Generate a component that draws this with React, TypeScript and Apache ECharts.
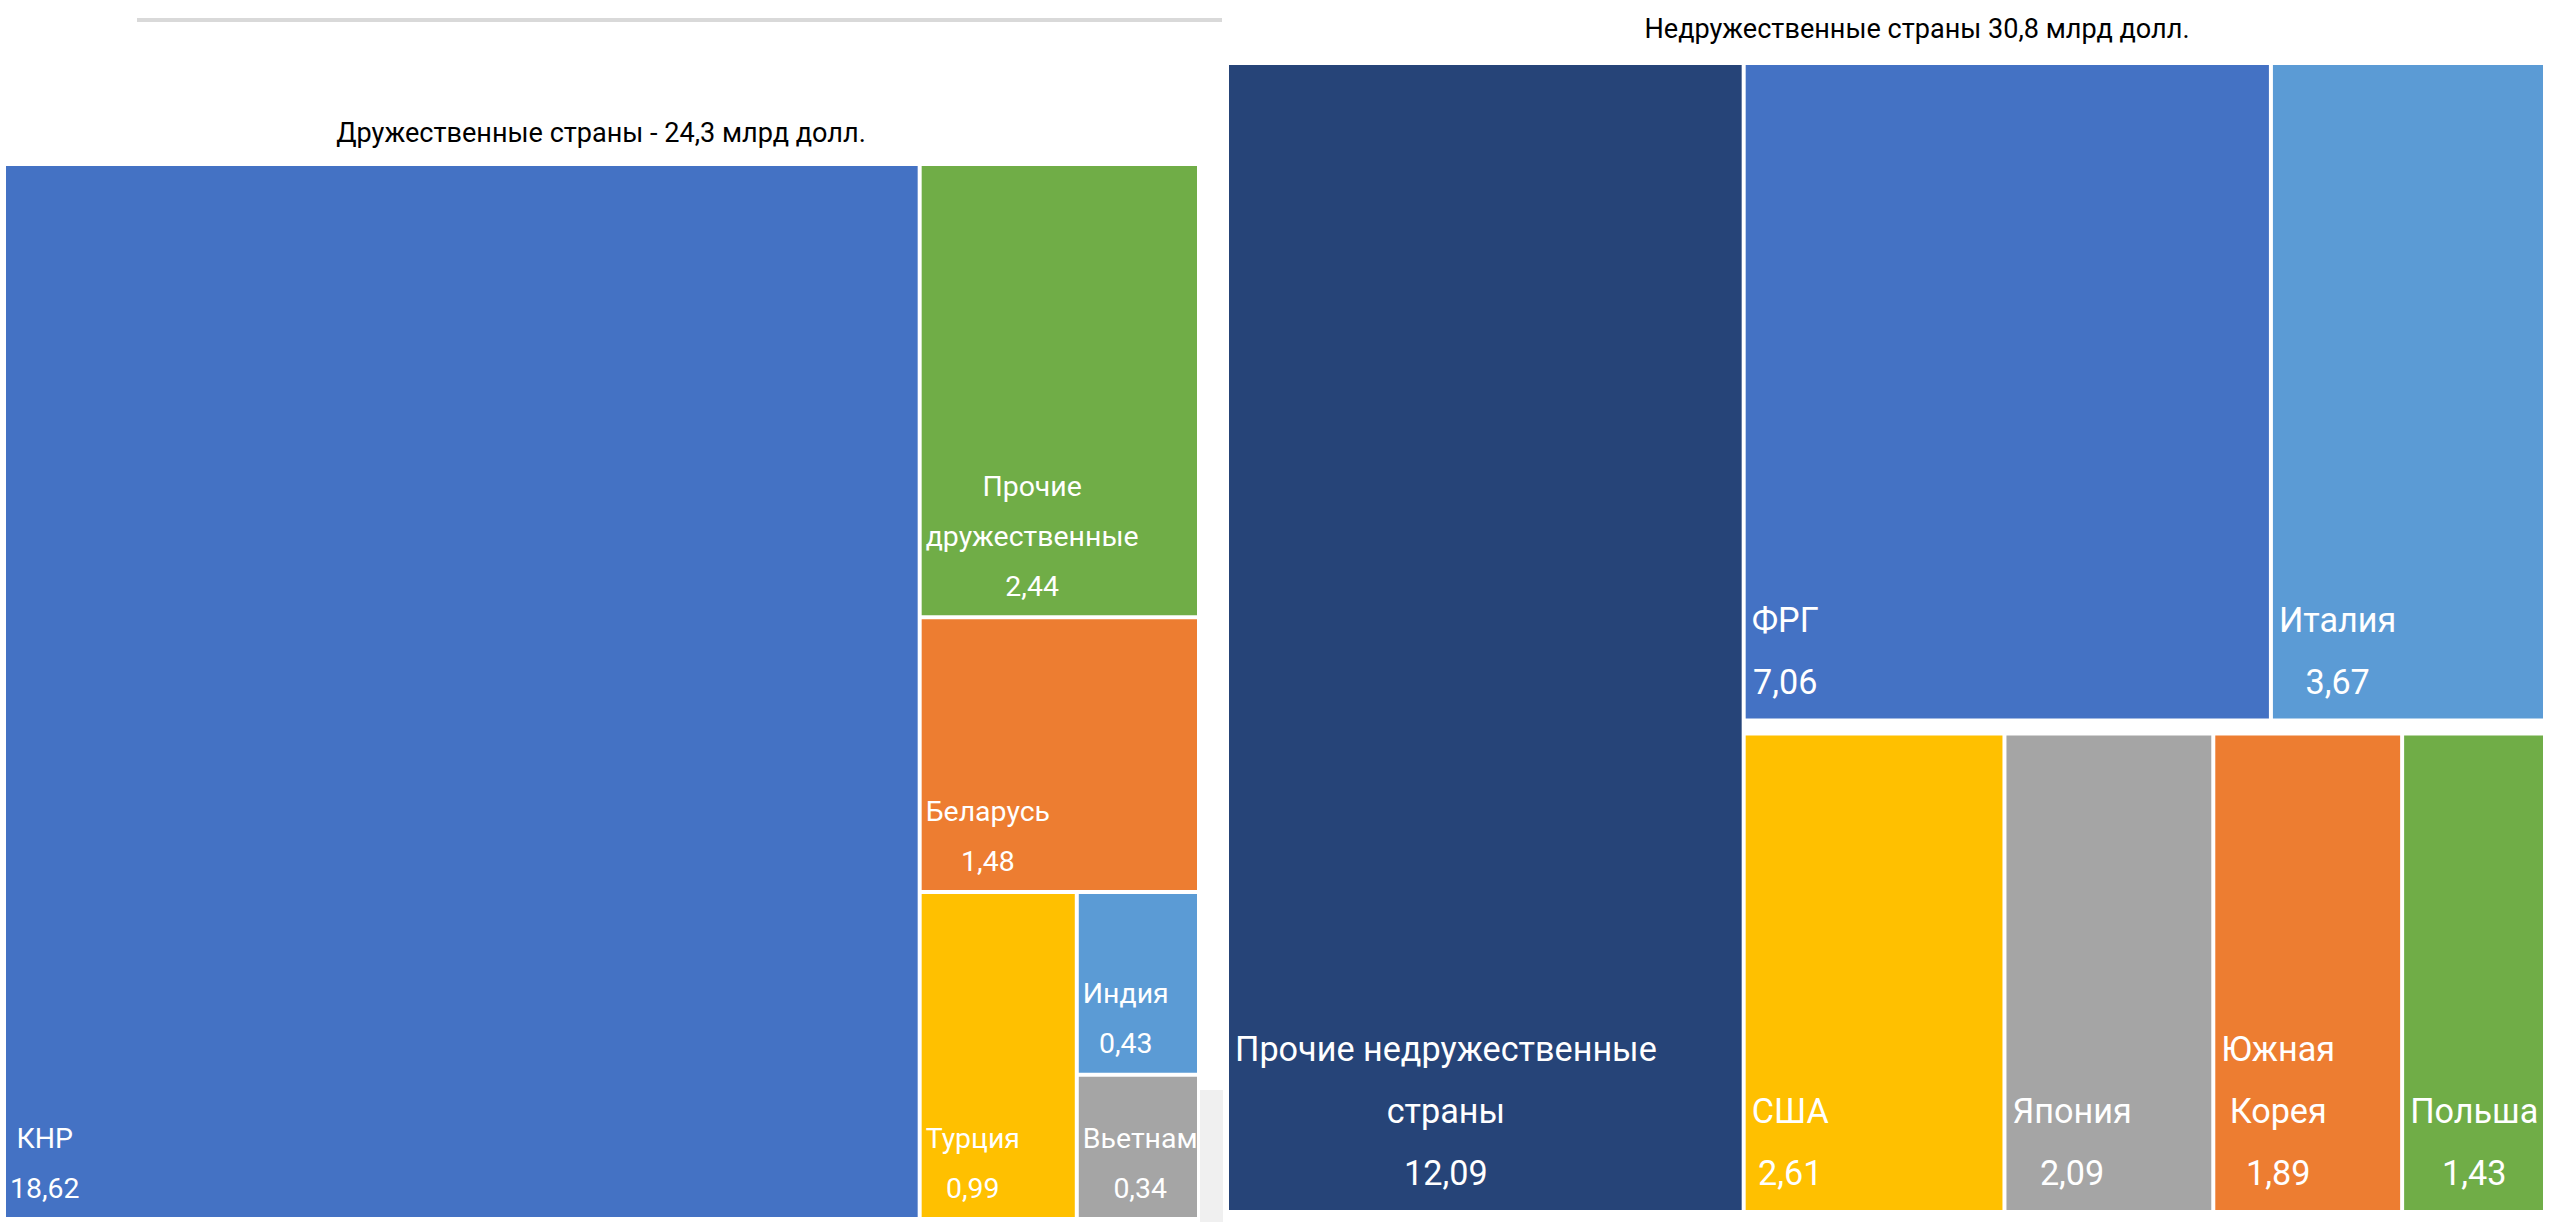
import React, { useEffect, useRef } from 'react';
import * as echarts from 'echarts';

// ---------- data ----------
const friendlyTitle = 'Дружественные страны - 24,3 млрд долл.';
const unfriendlyTitle = 'Недружественные страны 30,8 млрд долл.';

const friendlyNames = ['КНР', 'Прочие\nдружественные', 'Беларусь', 'Турция', 'Индия', 'Вьетнам'];
const friendlyValues = [18.62, 2.44, 1.48, 0.99, 0.43, 0.34];
const friendlyColors = ['#4472C4', '#70AD47', '#ED7D31', '#FFC000', '#5B9BD5', '#A5A5A5'];

const unfriendlyNames = ['Прочие недружественные\nстраны', 'ФРГ', 'Италия', 'США', 'Япония', 'Южная\nКорея', 'Польша'];
const unfriendlyValues = [12.09, 7.06, 3.67, 2.61, 2.09, 1.89, 1.43];
const unfriendlyColors = ['#264478', '#4472C4', '#5B9BD5', '#FFC000', '#A5A5A5', '#ED7D31', '#70AD47'];

// ---------- style ----------
const FONT = "Roboto, 'Liberation Sans', sans-serif";
const LEFT_LH = 50;
const RIGHT_LH = 62;

const fmt = (v: number) => v.toFixed(2).replace('.', ',');

let ctx: CanvasRenderingContext2D | null = null;
function getCtx() {
  if (!ctx) ctx = document.createElement('canvas').getContext('2d');
  return ctx!;
}
function blockWidth(lines: string[], size: number) {
  const c = getCtx();
  c.font = `${size}px ${FONT}`;
  return Math.max(...lines.map((l) => c.measureText(l).width));
}
// font size at which `text` is `target` pixels wide
function fitSize(text: string, target: number) {
  const c = getCtx();
  c.font = `100px ${FONT}`;
  return (100 * target) / c.measureText(text).width;
}

function leaf(name: string, value: number, color: string, size: number) {
  const w = blockWidth([...name.split('\n'), fmt(value)], size);
  return {
    name,
    value,
    itemStyle: { color },
    label: { offset: [w / 2, 0] },
  };
}

function group(children: any[], extra: any = {}) {
  return { name: ' ', children, ...extra };
}

function buildOption() {
  const leftFont = fitSize('дружественные', 213);
  const rightFont = fitSize('Прочие недружественные', 422);
  const titleFont = fitSize(friendlyTitle, 530);

  const L = friendlyNames.map((n, i) => leaf(n, friendlyValues[i], friendlyColors[i], leftFont));
  const R = unfriendlyNames.map((n, i) => leaf(n, unfriendlyValues[i], unfriendlyColors[i], rightFont));

  const leftData = [L[0], L[1], L[2], L[3], group([L[4], L[5]])];
  const rightData = [
    R[0],
    group([
      group([R[1], R[2]]),
      group(
        [group([group([R[3], R[4]]), R[5]]), R[6]],
        { upperLabel: { show: true, height: 13, color: 'rgba(0,0,0,0)' } }
      ),
    ]),
  ];

  const base = (fontSize: number, lineHeight: number, distance: number) => ({
    type: 'treemap',
    roam: false,
    nodeClick: false,
    silent: true,
    sort: false,
    visibleMin: 0,
    breadcrumb: { show: false },
    emphasis: { disabled: true },
    itemStyle: { gapWidth: 4, borderWidth: 0, borderColor: '#ffffff' },
    upperLabel: { show: false },
    label: {
      show: true,
      position: 'insideBottomLeft',
      align: 'center',
      distance,
      padding: 0,
      overflow: 'none',
      color: '#ffffff',
      fontFamily: FONT,
      fontSize,
      lineHeight,
      formatter: (p: any) => `${p.name}\n${fmt(p.value)}`,
    },
  });

  return {
    animation: false,
    backgroundColor: '#ffffff',
    graphic: [
      { type: 'rect', silent: true, shape: { x: 137, y: 18, width: 1085, height: 4 }, style: { fill: '#d9d9d9' } },
      { type: 'rect', silent: true, shape: { x: 1200, y: 1090, width: 23, height: 132 }, style: { fill: '#f0f0f0' } },
      {
        type: 'text', silent: true, x: 601, y: 133,
        style: { text: friendlyTitle, fontSize: titleFont, fontFamily: FONT, fill: '#000000', align: 'center', verticalAlign: 'middle' },
      },
      {
        type: 'text', silent: true, x: 1917, y: 29,
        style: { text: unfriendlyTitle, fontSize: titleFont, fontFamily: FONT, fill: '#000000', align: 'center', verticalAlign: 'middle' },
      },
    ],
    series: [
      {
        ...base(leftFont, LEFT_LH, 4),
        left: 6, top: 166, width: 1191, height: 1051,
        data: leftData,
      },
      {
        ...base(rightFont, RIGHT_LH, 6),
        squareRatio: 1.144,
        left: 1229, top: 65, width: 1314, height: 1145,
        data: rightData,
      },
    ],
  };
}

export default function App() {
  const ref = useRef<HTMLDivElement>(null);
  useEffect(() => {
    document.body.style.margin = '0';
    const chart = echarts.init(ref.current!, undefined, { renderer: 'svg' });
    chart.setOption(buildOption() as any);
    return () => chart.dispose();
  }, []);
  return (
    <div
      ref={ref}
      style={{ position: 'absolute', left: 0, top: 0, width: 2549, height: 1222, background: '#ffffff' }}
    />
  );
}
